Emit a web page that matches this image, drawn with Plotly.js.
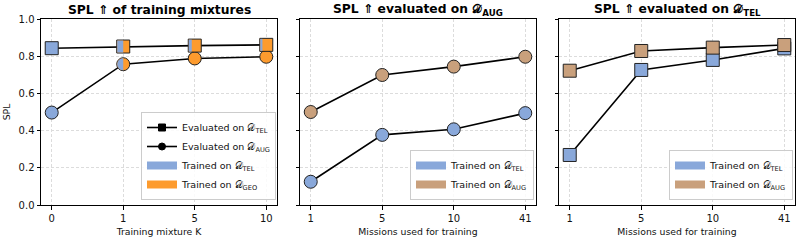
<!DOCTYPE html>
<html>
<head>
<meta charset="utf-8">
<script src="https://cdn.plot.ly/plotly-3.0.1.min.js"></script>
<style>html,body{margin:0;padding:0;background:#fff}#chart{width:797px;height:241px}</style>
</head>
<body>
<div id="chart"></div>
<script>
// ---- data ----
const mixtureK = ['0', '1', '5', '10'];
const evalOnTel = [0.843, 0.852, 0.857, 0.861];
const evalOnAug = [0.497, 0.757, 0.788, 0.797];
const telShareSquares = [1, 0.5, 0.25, 0.18];
const telShareCircles = [1, 0.5, 0, 0];

const missions = ['1', '5', '10', '41'];
const augEval_trainedTel = [0.125, 0.377, 0.407, 0.494];
const augEval_trainedAug = [0.500, 0.699, 0.744, 0.797];
const telEval_trainedTel = [0.269, 0.726, 0.780, 0.842];
const telEval_trainedAug = [0.722, 0.828, 0.846, 0.860];

// ---- styles ----
const BLUE = '#89a8da';
const ORANGE = '#fd9b2e';
const BROWN = '#c9a07c';
const EDGE = '#222222';
const D = '\u{1D49F}';
const FONT = 'DejaVu Sans';
const MS = 13;

const W = 797, H = 241;
const dom = (a, b) => [a / W, b / W];
const yDom = [1 - 205 / H, 1 - 19 / H];

function series(x, y, colors, symbol, xa, ya) {
  return {
    type: 'scatter', mode: 'lines+markers', x: x, y: y, xaxis: xa, yaxis: ya,
    showlegend: false, hoverinfo: 'skip',
    line: {color: '#000', width: 1.6},
    marker: {symbol: symbol, size: MS, color: colors, line: {color: EDGE, width: 1}}
  };
}
function legLine(name, symbol, legend) {
  return {type: 'scatter', mode: 'lines+markers', x: [null], y: [null], xaxis: 'x', yaxis: 'y',
    name: name, legend: legend, line: {color: '#000', width: 1.6},
    marker: {symbol: symbol, size: 7, color: '#000', line: {color: '#000', width: 1}}};
}
function legPatch(name, color, legend, xa, ya) {
  return {type: 'scatter', mode: 'lines', x: [null], y: [null], xaxis: xa, yaxis: ya, name: name, legend: legend,
    line: {color: color, width: 8}};
}

const colorsFromShare = s => s.map(v => v >= 1 ? BLUE : ORANGE);

const traces = [
  series(mixtureK, evalOnAug, colorsFromShare(telShareCircles), 'circle', 'x', 'y'),
  series(mixtureK, evalOnTel, colorsFromShare(telShareSquares), 'square', 'x', 'y'),
  series(missions, augEval_trainedTel, BLUE, 'circle', 'x2', 'y2'),
  series(missions, augEval_trainedAug, BROWN, 'circle', 'x2', 'y2'),
  series(missions, telEval_trainedTel, BLUE, 'square', 'x3', 'y3'),
  series(missions, telEval_trainedAug, BROWN, 'square', 'x3', 'y3'),
  legLine('Evaluated on ' + D + '<sub>TEL</sub>', 'square', 'legend'),
  legLine('Evaluated on ' + D + '<sub>AUG</sub>', 'circle', 'legend'),
  legPatch('Trained on ' + D + '<sub>TEL</sub>', BLUE, 'legend', 'x', 'y'),
  legPatch('Trained on ' + D + '<sub>GEO</sub>', ORANGE, 'legend', 'x', 'y'),
  legPatch('Trained on ' + D + '<sub>TEL</sub>', BLUE, 'legend2', 'x2', 'y2'),
  legPatch('Trained on ' + D + '<sub>AUG</sub>', BROWN, 'legend2', 'x2', 'y2'),
  legPatch('Trained on ' + D + '<sub>TEL</sub>', BLUE, 'legend3', 'x3', 'y3'),
  legPatch('Trained on ' + D + '<sub>AUG</sub>', BROWN, 'legend3', 'x3', 'y3')
];

// partial (mixture share) fills on panel 1 markers
const r = (MS - 1) / 2;
const shapes = [];
telShareSquares.forEach((s, i) => {
  if (s > 0 && s < 1) shapes.push({
    type: 'rect', xref: 'x', yref: 'y', layer: 'above',
    xsizemode: 'pixel', ysizemode: 'pixel', xanchor: i, yanchor: evalOnTel[i],
    x0: -r, x1: -r + 2 * r * s, y0: -r, y1: r,
    fillcolor: BLUE, line: {width: 0}
  });
});
telShareCircles.forEach((s, i) => {
  if (s > 0 && s < 1) {
    const xc = -r + 2 * r * s;
    const a0 = Math.acos(xc / r);
    const pts = [];
    const n = 24;
    for (let k = 0; k <= n; k++) {
      const a = a0 + (2 * Math.PI - 2 * a0) * k / n;
      pts.push((r * Math.cos(a)).toFixed(2) + ',' + (r * Math.sin(a)).toFixed(2));
    }
    shapes.push({
      type: 'path', xref: 'x', yref: 'y', layer: 'above',
      xsizemode: 'pixel', ysizemode: 'pixel', xanchor: i, yanchor: evalOnAug[i],
      path: 'M' + pts.join('L') + 'Z',
      fillcolor: BLUE, line: {width: 0}
    });
  }
});

function xAxis(d, title, anchor) {
  return {
    domain: d, anchor: anchor, type: 'category', range: [-0.15, 3.15],
    showline: true, mirror: true, linecolor: '#000', linewidth: 1,
    ticks: 'outside', ticklen: 3.5, tickcolor: '#000', tickwidth: 1,
    showgrid: true, gridcolor: '#dcdcdc', griddash: '3px,2px', gridwidth: 1,
    tickfont: {family: FONT, size: 10, color: '#111'},
    title: {text: title, font: {family: FONT, size: 9.3, color: '#111'}, standoff: 5},
    zeroline: false, fixedrange: true
  };
}
function yAxis(anchor, labels, title) {
  return {
    domain: yDom, anchor: anchor, range: [0, 1], dtick: 0.2, tickformat: '.1f',
    showline: true, mirror: true, linecolor: '#000', linewidth: 1,
    ticks: 'outside', ticklen: 3.5, tickcolor: '#000', tickwidth: 1,
    showticklabels: labels,
    showgrid: true, gridcolor: '#dcdcdc', griddash: '3px,2px', gridwidth: 1,
    tickfont: {family: FONT, size: 10, color: '#111'},
    title: title ? {text: title, font: {family: FONT, size: 9.3, color: '#111'}, standoff: 6} : {text: ''},
    zeroline: false, fixedrange: true
  };
}
function legendAt(xr, yb) {
  return {
    x: xr / W, y: 1 - yb / H, xanchor: 'right', yanchor: 'bottom',
    bgcolor: 'rgba(255,255,255,0.85)', bordercolor: '#cccccc', borderwidth: 1,
    font: {family: FONT, size: 9.5, color: '#111'}, itemwidth: 30, tracegroupgap: 0,
    traceorder: 'normal'
  };
}
function title(text, d) {
  return {
    text: '<b>' + text + '</b>', xref: 'paper', yref: 'paper',
    x: (d[0] + d[1]) / 2, y: 1 - 10 / H, xanchor: 'center', yanchor: 'middle',
    showarrow: false, font: {family: FONT, size: 12.3, color: '#000'}
  };
}

const d1 = dom(41, 277), d2 = dom(300, 536), d3 = dom(559, 795);
const layout = {
  width: W, height: H, margin: {l: 0, r: 0, t: 0, b: 0},
  paper_bgcolor: '#fff', plot_bgcolor: '#fff',
  xaxis: xAxis(d1, 'Training mixture K', 'y'),
  yaxis: yAxis('x', true, 'SPL'),
  xaxis2: xAxis(d2, 'Missions used for training', 'y2'),
  yaxis2: yAxis('x2', false),
  xaxis3: xAxis(d3, 'Missions used for training', 'y3'),
  yaxis3: yAxis('x3', false),
  legend: legendAt(276, 200),
  legend2: legendAt(534, 200),
  legend3: legendAt(793, 200),
  shapes: shapes,
  annotations: [
    title('SPL \u21D1 of training mixtures', d1),
    title('SPL \u21D1 evaluated on ' + D + '<sub>AUG</sub>', d2),
    title('SPL \u21D1 evaluated on ' + D + '<sub>TEL</sub>', d3)
  ]
};

Plotly.newPlot('chart', traces, layout, {staticPlot: true, displayModeBar: false});
</script>
</body>
</html>
